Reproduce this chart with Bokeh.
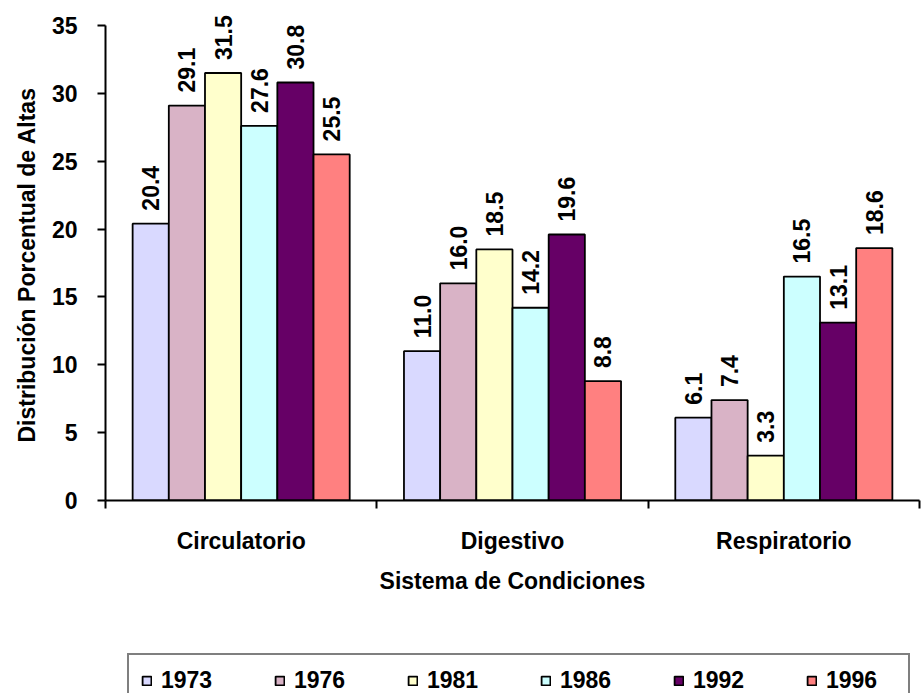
from math import pi
from bokeh.plotting import figure
from bokeh.layouts import column
from bokeh.models import (ColumnDataSource, FixedTicker, Legend, LegendItem,
                          LabelSet, Range1d, Title)
from bokeh.core.properties import value
from bokeh.embed import file_html
from bokeh.resources import INLINE

categories = ["Circulatorio", "Digestivo", "Respiratorio"]
years = ["1973", "1976", "1981", "1986", "1992", "1996"]
v1973 = [20.4, 11.0, 6.1]
v1976 = [29.1, 16.0, 7.4]
v1981 = [31.5, 18.5, 3.3]
v1986 = [27.6, 14.2, 16.5]
v1992 = [30.8, 19.6, 13.1]
v1996 = [25.5, 8.8, 18.6]
series = [v1973, v1976, v1981, v1986, v1992, v1996]
colors = ["#D9D9FF", "#D9B3C6", "#FFFFCC", "#CCFFFF", "#660066", "#FF8080"]
y_ticks = [0, 5, 10, 15, 20, 25, 30, 35]

FONT = "Liberation Sans"
FS = "23px"

p = figure(width=921, height=650, output_backend="svg", toolbar_location=None,
           x_range=Range1d(0, 3), y_range=Range1d(0, 36.84),
           min_border_left=105, min_border_right=2, min_border_top=0,
           min_border_bottom=150)
p.grid.visible = False
p.outline_line_color = None
p.background_fill_color = "white"

n = len(series)
group_width = 0.8
bw = group_width / n
for i, (yr, vals, col) in enumerate(zip(years, series, colors)):
    xs = [c + 0.5 - group_width / 2 + bw * (i + 0.5) for c in range(len(categories))]
    src = ColumnDataSource(dict(x=xs, top=vals, lbl=[f"{v:.1f}" for v in vals]))
    p.vbar(x="x", top="top", width=bw, source=src, fill_color=col,
           line_color="black", line_width=1.8)
    ls = LabelSet(x="x", y="top", text="lbl", source=src, angle=pi / 2,
                  text_align="left", text_baseline="middle", y_offset=13,
                  text_font=value(FONT), text_font_size=FS,
                  text_font_style="bold", text_color="black")
    p.add_layout(ls)

# x axis
p.xaxis.ticker = FixedTicker(ticks=[0.5, 1.5, 2.5], minor_ticks=[0, 1, 2, 3])
p.xaxis.major_label_overrides = {0.5: categories[0], 1.5: categories[1], 2.5: categories[2]}
p.xaxis.major_tick_out = 0
p.xaxis.major_tick_in = 0
p.xaxis.minor_tick_out = 8
p.xaxis.minor_tick_in = 0
p.xaxis.minor_tick_line_color = "black"
p.xaxis.minor_tick_line_width = 2
p.xaxis.major_label_standoff = 19
p.xaxis.axis_label = "Sistema de Condiciones"
p.xaxis.axis_label_standoff = 11

# y axis
p.yaxis.ticker = FixedTicker(ticks=y_ticks, minor_ticks=[])
p.yaxis.bounds = (0, 35)
p.yaxis.major_tick_out = 8
p.yaxis.major_tick_in = 0
p.yaxis.major_label_standoff = 20

for ax in (p.xaxis, p.yaxis):
    ax.axis_line_color = "black"
    ax.axis_line_width = 2
    ax.major_tick_line_color = "black"
    ax.major_tick_line_width = 2
    ax.major_label_text_font = FONT
    ax.major_label_text_font_size = FS
    ax.major_label_text_font_style = "bold"
    ax.major_label_text_color = "black"
    ax.axis_label_text_font = FONT
    ax.axis_label_text_font_size = FS
    ax.axis_label_text_font_style = "bold"
    ax.axis_label_text_color = "black"

ytitle = Title(text="Distribución Porcentual de Altas", align="left", offset=58,
               standoff=18, text_font=FONT, text_font_size=FS,
               text_font_style="bold", text_color="black")
p.add_layout(ytitle, "left")

# legend strip below the chart (its frame is aligned with the chart's frame)
lg = figure(width=921, height=43, output_backend="svg", toolbar_location=None,
            x_range=Range1d(0, 1), y_range=Range1d(0, 1),
            x_axis_type=None, y_axis_type=None,
            min_border_left=0, min_border_right=0, min_border_top=0,
            min_border_bottom=0)
lg.grid.visible = False
lg.outline_line_color = None
items = []
for yr, col in zip(years, colors):
    r = lg.vbar(x=[0.5], top=[-10], bottom=[-10], width=0, fill_color=col,
                line_color="black", line_width=1.8)
    items.append(LegendItem(label=yr, renderers=[r]))

legend = Legend(items=items, orientation="horizontal", location=(22, -15),
                glyph_width=11, glyph_height=11, label_standoff=9,
                label_width=70, spacing=43, padding=12, margin=0,
                label_text_font=FONT, label_text_font_size=FS,
                label_text_font_style="bold", label_text_color="black",
                border_line_color="black", border_line_width=2,
                background_fill_color="white", background_fill_alpha=1)
lg.add_layout(legend, "center")

layout = column(p, lg, spacing=0)
open("out.html", "w").write(file_html(layout, INLINE))
